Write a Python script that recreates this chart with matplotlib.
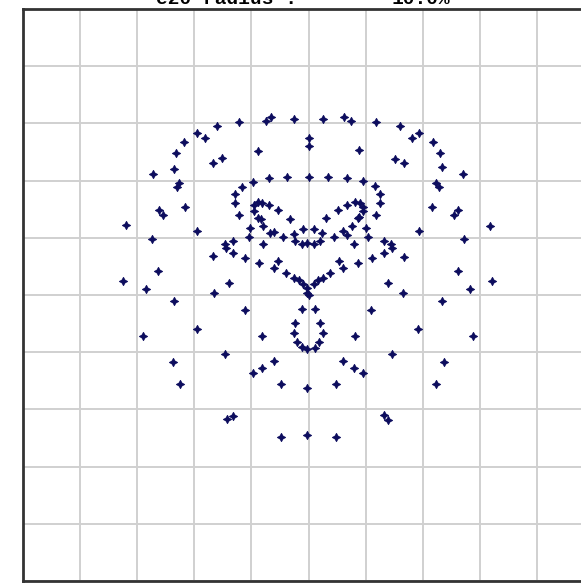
import numpy as np
import matplotlib
matplotlib.use("Agg")
import matplotlib.pyplot as plt

# point positions, in grid units (one grid cell = 1), centre of the grid = (0, 0)
x_vals = [
    -3.19, -3.25, -2.84, -2.72, -2.74, -2.63, -2.61, -2.54, -2.35, -2.32,
    -2.30, -2.26, -2.18, -2.16, -1.95, -1.82, -1.95, -1.67, -1.51, -1.68,
    -1.61, -1.65, -1.40, -1.46, -1.44, -1.32, -1.32, -1.28, -1.28, -1.21,
    -1.16, -1.21, -1.12, -1.05, -1.02, -0.98, -0.96, -0.96, -0.89, -0.82,
    -0.89, -0.88, -0.84, -0.86, -0.79, -0.79, -0.75, -0.65, -0.70, -0.70,
    -0.67, -0.61, -0.61, -0.54, -0.53, -0.39, -0.26, -0.16, -0.37, -0.32,
    -0.26, -0.25, -0.23, -0.44,
    0.25, 0.63, 0.74, 1.19, 1.60, 1.82, 1.93, 2.18, 2.30, 2.33,
    2.70, 2.23, 2.28, 0.00, 0.00, 0.88, 1.51, 1.67, 0.00, 0.35,
    0.68, 0.96, 1.16, 1.26, 1.26, 1.18, 0.82, 0.91, 0.96, 0.95,
    0.86, 0.89, 0.68, 0.51, 0.30, 0.77, 0.61, 0.68, 0.44, 1.00,
    1.05, 0.79, -0.09, 0.09, 0.23, -0.12, -0.02, 0.09, 0.21, 1.32,
    1.44, 1.46, 1.32, 1.67, 1.11, 0.86, 0.53, 0.60, 0.37, 0.25,
    0.16, -0.09, 0.09, -0.02, -0.02, 1.39, 1.65, 1.93, 2.16, 2.54,
    2.61, 2.72, 3.18, 2.61, 2.82, 3.21,
    -2.35, -1.12, -2.89, -1.95, -0.82, -2.37, -2.25, -1.47, -0.98, -0.81,
    -0.60, -0.49, -0.02, -1.42, -1.33, -0.49, -0.02,
    -0.12, 0.11, -0.23, -0.26, -0.21, -0.12, -0.02, 0.11, 0.21, 0.25,
    0.19, 0.00,
    1.09, 2.33, 0.82, 1.91, 2.88, 1.46, 0.60, 0.79, 0.96, 2.37,
    0.49, 2.23, 1.32, 1.40, 0.49,
]
y_vals = [
    1.23, 0.25, 0.11, 2.11, 0.98, 0.42, 1.49, 1.40, 2.21, 2.49,
    1.89, 1.95, 2.68, 1.54, 2.84, 2.75, 1.12, 2.30, 2.39, 0.68,
    2.95, 0.04, 0.21, 0.89, 0.82, 0.95, 0.74, 1.77, 1.61, 1.40,
    1.89, 3.02, 0.65, 1.02, 1.18, 1.98, 1.58, 1.46, 1.63, 1.61,
    2.51, 1.35, 1.32, 0.56, 0.89, 1.21, 3.05, 3.12, 2.05, 1.58,
    1.09, 1.11, 0.47, 0.60, 1.49, 0.39, 0.30, 0.26, 2.07, 1.33,
    3.07, 1.07, 0.95, 1.02,
    3.07, 3.12, 3.05, 3.02, 2.95, 2.75, 2.84, 2.68, 2.49, 2.23,
    2.11, 1.95, 1.89, 2.74, 2.60, 2.53, 2.37, 2.30, 2.07, 2.07,
    2.05, 2.00, 1.91, 1.77, 1.60, 1.40, 1.63, 1.60, 1.53, 1.46,
    1.35, 1.37, 1.58, 1.49, 1.35, 1.21, 1.12, 1.05, 1.02, 1.18,
    1.02, 0.89, 1.16, 1.16, 1.09, 0.89, 0.91, 0.89, 0.95, 0.95,
    0.89, 0.82, 0.74, 0.67, 0.65, 0.56, 0.60, 0.47, 0.39, 0.30,
    0.26, 0.19, 0.19, 0.12, 0.04, 0.21, 0.04, 1.12, 1.54, 1.40,
    1.49, 0.98, 1.21, 0.42, 0.11, 0.25,
    -0.11, -0.26, -0.72, -0.60, -0.72, -1.18, -1.56, -1.04, -1.37, -1.28,
    -1.16, -1.56, -1.63, -2.16, -2.11, -2.49, -2.44,
    -0.25, -0.25, -0.49, -0.67, -0.82, -0.91, -0.95, -0.93, -0.49, -0.67,
    -0.82, 0.00,
    -0.26, -0.11, -0.72, -0.60, -0.72, -1.04, -1.16, -1.28, -1.37, -1.18,
    -1.56, -1.56, -2.09, -2.18, -2.49,
]

title_left = "e20 radius :"
title_right = "10.0%"

fig = plt.figure(figsize=(5.81, 5.83), dpi=100)
# axes run off the right edge, like the cropped original
ax = fig.add_axes([23 / 581, 2 / 583, 571 / 581, 572 / 583])

ax.scatter(x_vals, y_vals, marker=(4, 1, 0), s=34, color="#0d0d5e",
           linewidths=0.7, edgecolors="#0d0d5e", zorder=3)

ax.set_xlim(-5, 5)
ax.set_ylim(-5, 5)
ax.set_xticks(np.arange(-5, 6, 1))
ax.set_yticks(np.arange(-5, 6, 1))
ax.tick_params(length=0, labelbottom=False, labelleft=False)
ax.grid(True, color="#d0d0d0", linewidth=1.4)
ax.set_axisbelow(True)

for side in ["left", "top", "bottom"]:
    ax.spines[side].set_color("#333333")
    ax.spines[side].set_linewidth(2)
ax.spines["right"].set_visible(False)

# title, only its lower part is inside the picture (cropped like the original)
fig.text(226 / 581, 1 - 4 / 583, title_left, ha="center", va="baseline",
         fontsize=14, fontweight="bold", family="Liberation Mono")
fig.text(421 / 581, 1 - 4 / 583, title_right, ha="center", va="baseline",
         fontsize=14, fontweight="bold", family="Liberation Mono")

fig.savefig("out.png", dpi=100)
